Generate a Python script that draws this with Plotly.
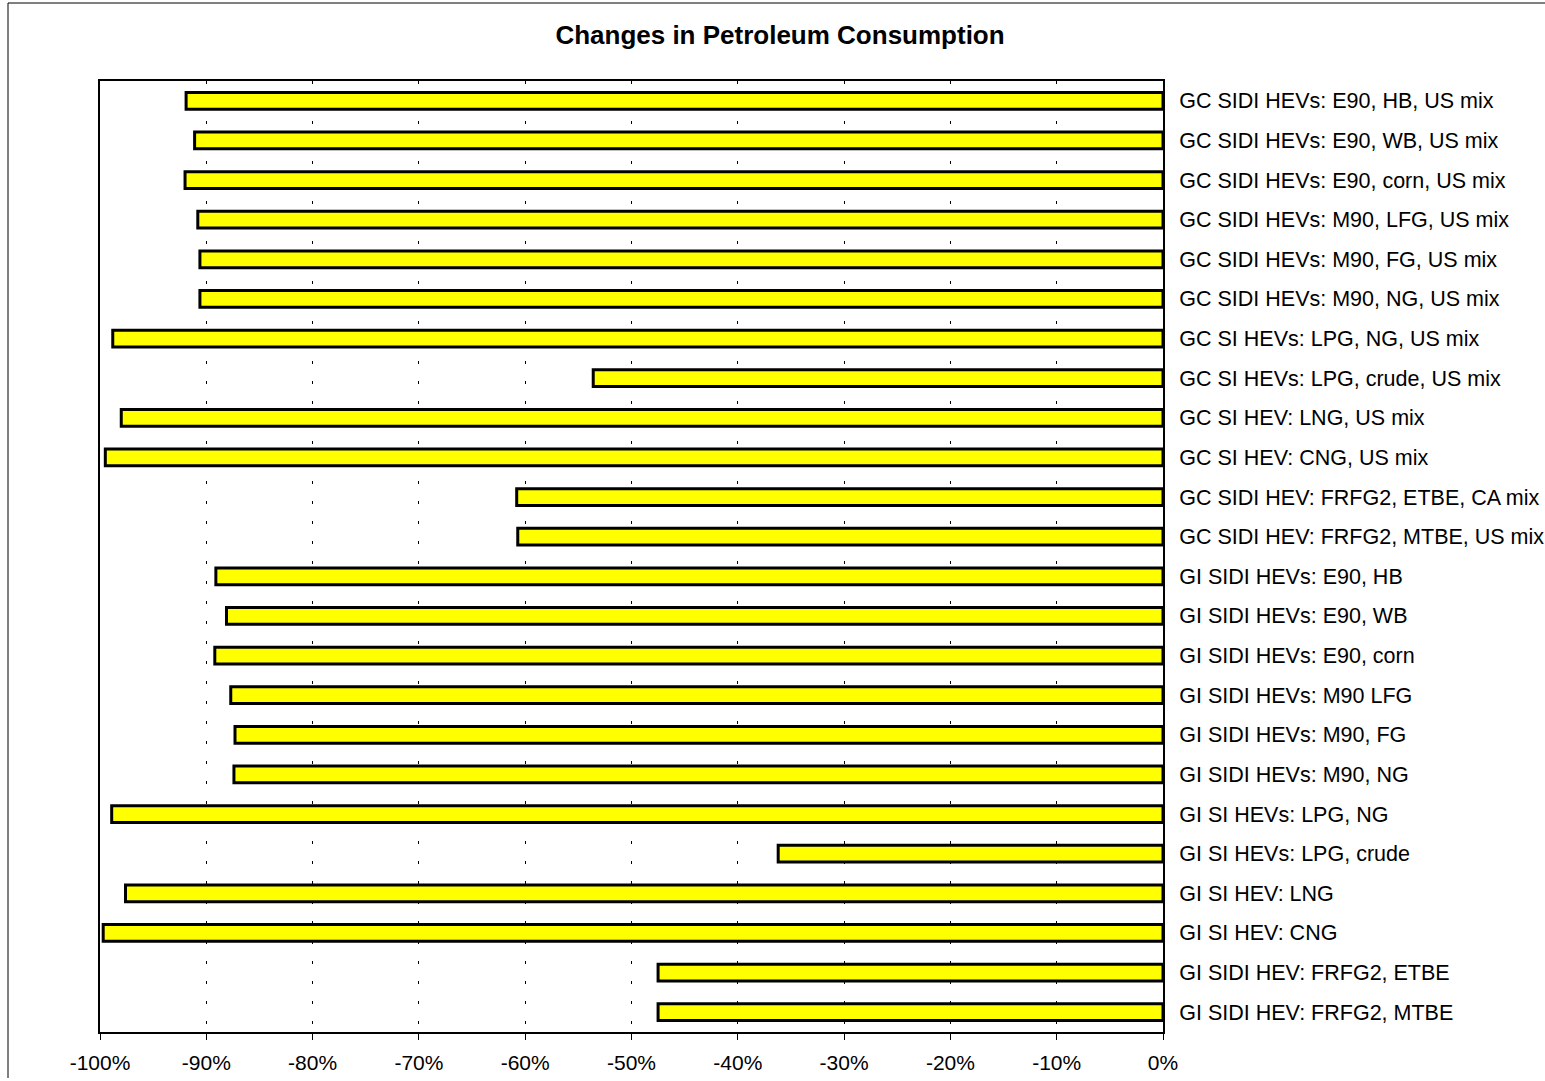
import plotly.graph_objects as go

categories = [
    "GC SIDI HEVs: E90, HB, US mix",
    "GC SIDI HEVs: E90, WB, US mix",
    "GC SIDI HEVs: E90, corn, US mix",
    "GC SIDI HEVs: M90, LFG, US mix",
    "GC SIDI HEVs: M90, FG, US mix",
    "GC SIDI HEVs: M90, NG, US mix",
    "GC SI HEVs: LPG, NG, US mix",
    "GC SI HEVs: LPG, crude, US mix",
    "GC SI HEV: LNG, US mix",
    "GC SI HEV: CNG, US mix",
    "GC SIDI HEV: FRFG2, ETBE, CA mix",
    "GC SIDI HEV: FRFG2, MTBE, US mix",
    "GI SIDI HEVs: E90, HB",
    "GI SIDI HEVs: E90, WB",
    "GI SIDI HEVs: E90, corn",
    "GI SIDI HEVs: M90 LFG",
    "GI SIDI HEVs: M90, FG",
    "GI SIDI HEVs: M90, NG",
    "GI SI HEVs: LPG, NG",
    "GI SI HEVs: LPG, crude",
    "GI SI HEV: LNG",
    "GI SI HEV: CNG",
    "GI SIDI HEV: FRFG2, ETBE",
    "GI SIDI HEV: FRFG2, MTBE",
]
changes = [
    -91.9, -91.1, -92.0, -90.8, -90.6, -90.6, -98.8, -53.6, -98.0, -99.5,
    -60.8, -60.7, -89.1, -88.1, -89.2, -87.7, -87.3, -87.4, -98.9, -36.2,
    -97.6, -99.7, -47.5, -47.5,
]
tick_vals = [-100, -90, -80, -70, -60, -50, -40, -30, -20, -10, 0]
tick_text = ["-100%", "-90%", "-80%", "-70%", "-60%", "-50%", "-40%", "-30%", "-20%", "-10%", "0%"]

W, H = 1545, 1078
L, R, T, B = 100, 1545 - 1163, 81, H - 1032
PW, PH = W - L - R, H - T - B

fig = go.Figure(go.Bar(
    x=changes, y=categories, orientation="h",
    marker=dict(color="#FFFF00", line=dict(color="black", width=3)),
    width=0.42,
))

fig.update_layout(
    width=W, height=H,
    margin=dict(l=L, r=R, t=T, b=B, autoexpand=False),
    paper_bgcolor="white", plot_bgcolor="white",
    title=dict(text="<b>Changes in Petroleum Consumption</b>", x=(780 - L) / PW, xref="paper",
               xanchor="center", y=1 - 35 / H, yanchor="middle",
               font=dict(family="Liberation Sans, Arial", size=26, color="black")),
    font=dict(family="Liberation Sans, Arial", color="black"),
    showlegend=False,
)
fig.update_xaxes(
    range=[-100, 0], tickvals=tick_vals, ticktext=tick_text, automargin=False,
    tickfont=dict(size=21), ticks="outside", ticklen=6, tickcolor="black", ticklabelstandoff=5,
    showgrid=True, gridcolor="black", gridwidth=1.3, griddash="3px,17px",
    showline=True, linecolor="black", linewidth=2, mirror=True, zeroline=False,
)
fig.update_yaxes(
    categoryorder="array", categoryarray=categories, autorange="reversed", automargin=False,
    side="right", tickfont=dict(size=21.5), ticks="", ticklabelstandoff=10,
    showline=True, linecolor="black", linewidth=2, mirror=True, showgrid=False,
)
# outer chart frame (top and left edges visible in reference)
fig.add_shape(type="line", xref="paper", yref="paper",
              x0=(8 - L) / PW, x1=(1545 - L) / PW,
              y0=(H - B - 3) / PH, y1=(H - B - 3) / PH,
              line=dict(color="black", width=1))
fig.add_shape(type="line", xref="paper", yref="paper",
              x0=(8 - L) / PW, x1=(8 - L) / PW,
              y0=(H - B - 3) / PH, y1=(H - B - H) / PH,
              line=dict(color="black", width=1))

fig.write_html("out.html", config={"displayModeBar": False},
               post_script="document.body.style.margin='0';document.body.style.overflow='hidden';")
